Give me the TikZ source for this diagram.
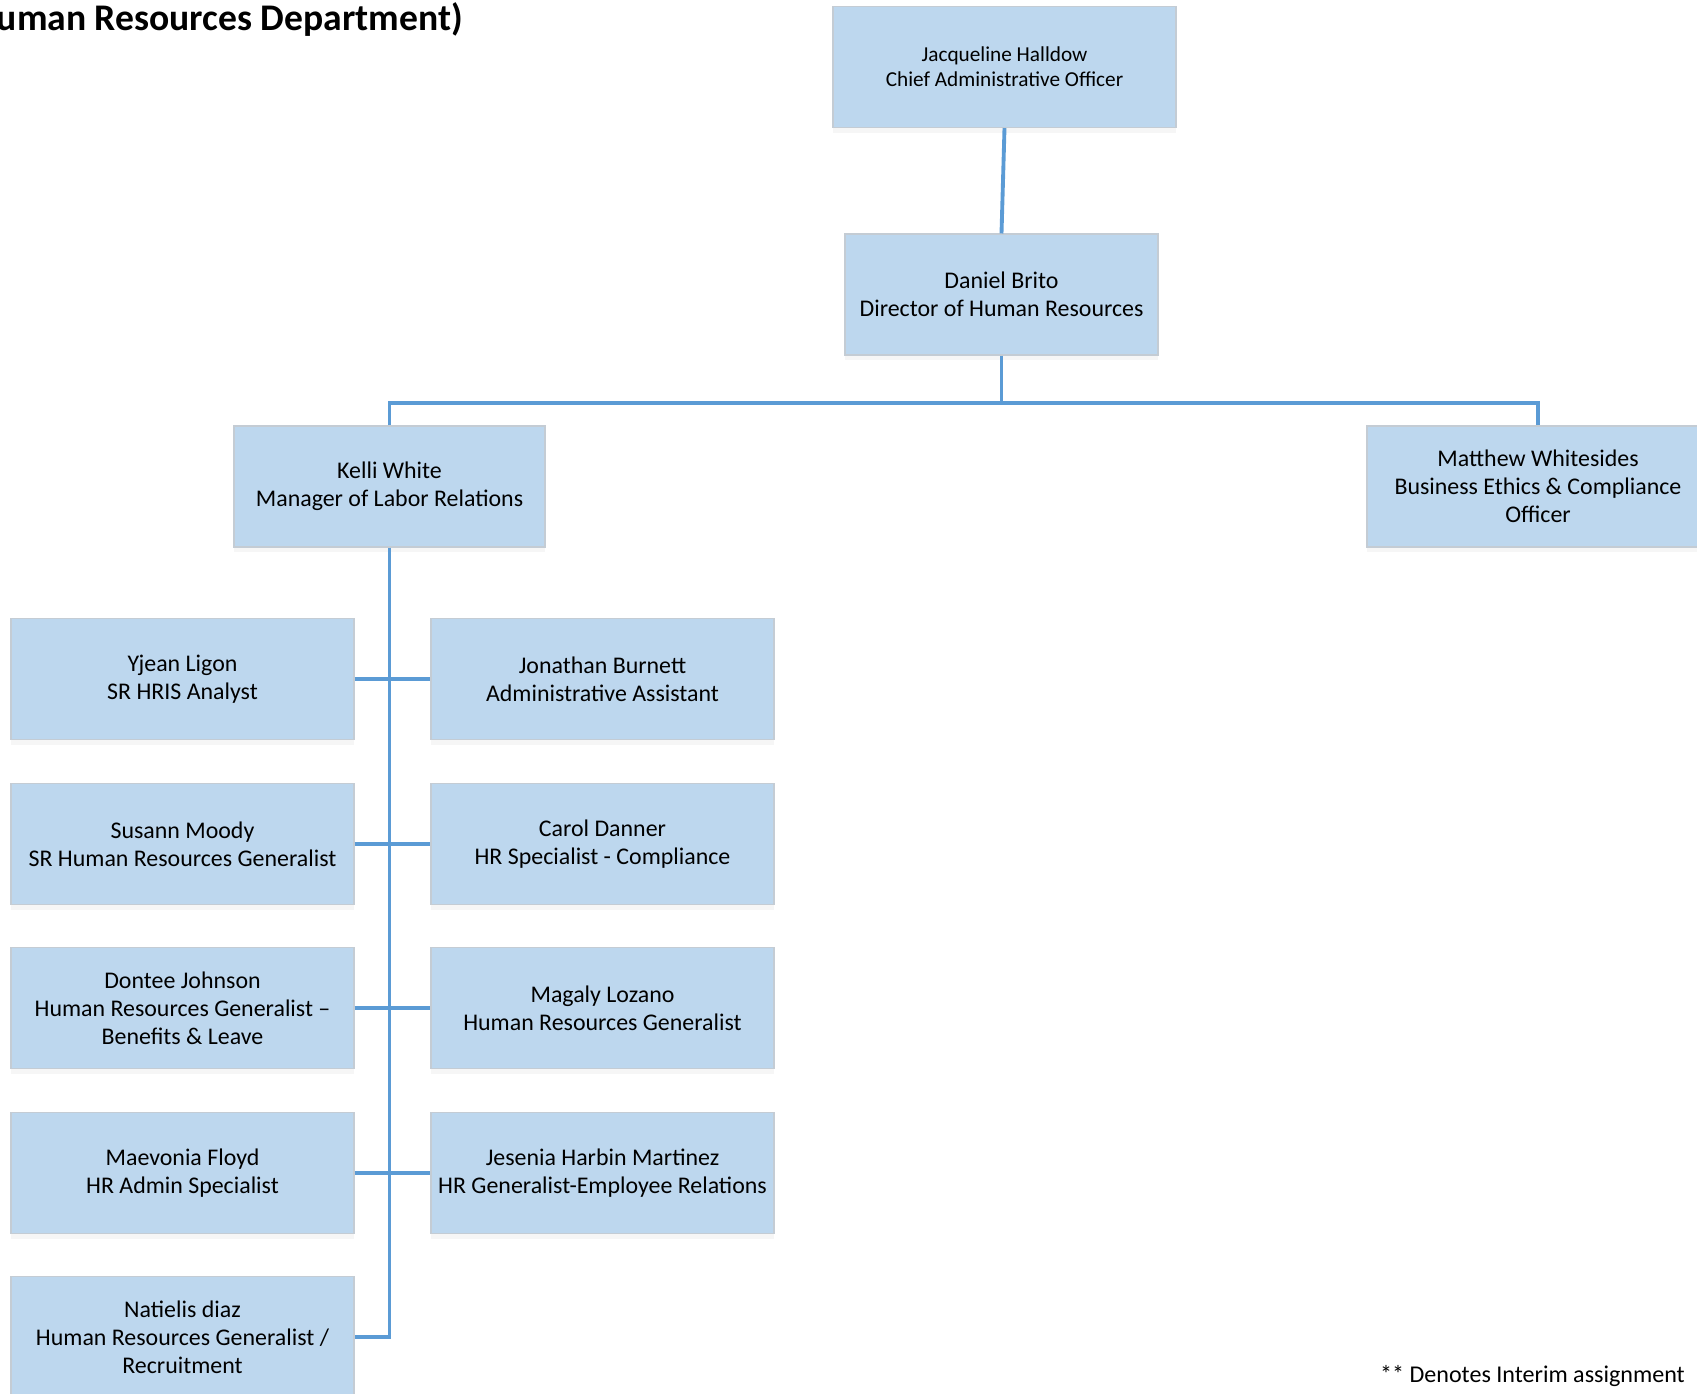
\documentclass[tikz,border=0pt]{standalone}
\usepackage{fontspec}
\setmainfont{Carlito}
\usetikzlibrary{shadows}
\definecolor{mfill}{RGB}{189,215,238}
\definecolor{mline}{RGB}{91,155,213}
\definecolor{mrim}{RGB}{196,204,212}

\begin{document}
\begin{tikzpicture}[
    person/.style={draw=mrim, line width=0.6pt, fill=mfill, minimum width=6.86cm,
      minimum height=2.42cm, align=center, inner sep=0pt,
      font=\fontsize{13.6}{16}\selectfont,
      drop shadow={opacity=0.07, shadow xshift=0pt, shadow yshift=-3pt}},
    link/.style={mline, line width=2.2pt}]

    \useasboundingbox (0, 0) rectangle (33.94, -27.88);

    \node [anchor=base east, font=\fontsize{21.4}{25}\selectfont\bfseries] (title) at (9.38, -0.6) {(Human Resources Department)};

    \node [person, font=\fontsize{12.1}{14.2}\selectfont] (jh) at (20.09, -1.34) {Jacqueline Halldow\\Chief Administrative Officer};
    \node [person, minimum width=6.26cm] (db) at (20.03, -5.89) {Daniel Brito\\Director of Human Resources};
    \node [person, minimum width=6.22cm] (kw) at (7.79, -9.73) {Kelli White\\Manager of Labor Relations};
    \node [person, minimum width=6.84cm] (mw) at (30.76, -9.73) {Matthew Whitesides\\Business Ethics \& Compliance\\Officer};

    \node [person] (yl) at (3.65, -13.58) {Yjean Ligon\\SR HRIS Analyst};
    \node [person] (sm) at (3.65, -16.88) {Susann Moody\\SR Human Resources Generalist};
    \node [person] (dj) at (3.65, -20.16) {Dontee Johnson\\Human Resources Generalist --\\Benefits \& Leave};
    \node [person] (mf) at (3.65, -23.46) {Maevonia Floyd\\HR Admin Specialist};
    \node [person] (nd) at (3.65, -26.74) {Natielis diaz\\Human Resources Generalist /\\Recruitment};

    \node [person] (jb) at (12.05, -13.58) {Jonathan Burnett\\Administrative Assistant};
    \node [person] (cd) at (12.05, -16.88) {Carol Danner\\HR Specialist - Compliance};
    \node [person] (ml) at (12.05, -20.16) {Magaly Lozano\\Human Resources Generalist};
    \node [person] (jm) at (12.05, -23.46) {Jesenia Harbin Martinez\\HR Generalist-Employee Relations};

    \node [anchor=base east, font=\fontsize{13.7}{16}\selectfont] (note) at (33.82, -27.64) {** Denotes Interim assignment};

    \coordinate (bus) at (20, -8.06);

    \draw [link] (jh.south) -- (db.north);
    \draw [link] (db.south) -- (db.south |- bus);
    \draw [link] (kw.north) |- (mw.north |- bus) -- (mw.north);

    \draw [link] (kw.south) |- (nd.east);
    \draw [link] (yl.east) -- (jb.west);
    \draw [link] (sm.east) -- (cd.west);
    \draw [link] (dj.east) -- (ml.west);
    \draw [link] (mf.east) -- (jm.west);
  \end{tikzpicture}
\end{document}
